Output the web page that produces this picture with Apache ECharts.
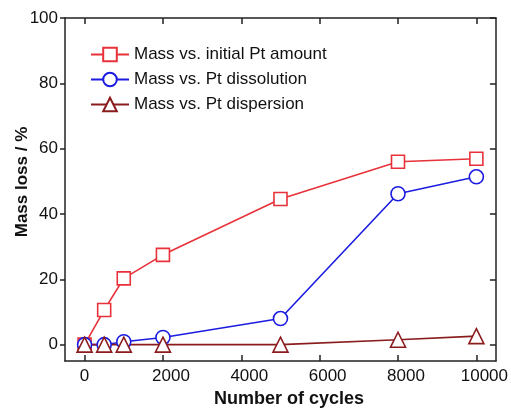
<!DOCTYPE html>
<html>
<head>
<meta charset="utf-8">
<script src="https://cdn.jsdelivr.net/npm/echarts@6/dist/echarts.min.js"></script>
<style>
  html, body { margin: 0; padding: 0; background: #fff; }
  #chart { width: 511px; height: 410px; }
</style>
</head>
<body>
<div id="chart"></div>
<script>
// Cycle counts and mass-loss values (%)
const cycles = [0, 500, 1000, 2000, 5000, 8000, 10000];
const initialPt = [0, 10.6, 20.3, 27.5, 44.6, 56.0, 56.9];
const ptDissolution = [0, 0, 0.9, 2.2, 8.0, 46.2, 51.4];
const ptDispersion = [0, 0, 0, 0, 0, 1.5, 2.6];

const seriesNames = [
  'Mass vs. initial Pt amount',
  'Mass vs. Pt dissolution',
  'Mass vs. Pt dispersion'
];
const xTicks = [0, 2000, 4000, 6000, 8000, 10000];
const yTicks = [0, 20, 40, 60, 80, 100];

const FONT = 'Liberation Sans, Arial, sans-serif';
const AXIS_COLOR = '#222';
const TEXT_COLOR = '#111';

function pairs(ys) {
  return cycles.map((c, i) => [c, ys[i]]);
}

const chart = echarts.init(document.getElementById('chart'), null, { renderer: 'canvas' });

const frameLine = { show: true, onZero: false, lineStyle: { color: AXIS_COLOR, width: 1.5 } };

function mkSeries(name, data, color, symbol, size) {
  return {
    name: name,
    type: 'line',
    data: data,
    symbol: symbol,
    symbolSize: size,
    showAllSymbol: true,
    lineStyle: { color: color, width: 1.6 },
    itemStyle: { color: '#fff', borderColor: color, borderWidth: 1.6 },
    emphasis: { disabled: true },
    animation: false,
    z: 3
  };
}

chart.setOption({
  backgroundColor: '#fff',
  animation: false,
  grid: { left: 65, right: 15, top: 18, bottom: 49 },
  legend: {
    left: 85,
    top: 41,
    orient: 'vertical',
    itemWidth: 38,
    itemHeight: 17,
    itemGap: 8,
    textStyle: { fontFamily: FONT, fontSize: 17, color: TEXT_COLOR },
    data: seriesNames.map(n => ({ name: n })),
    selectedMode: false
  },
  xAxis: [
    {
      type: 'value',
      min: -500,
      max: 10500,
      position: 'bottom',
      axisLine: frameLine,
      axisTick: { show: true, inside: true, length: 6, lineStyle: { color: AXIS_COLOR, width: 1.5 },
                  customValues: xTicks },
      axisLabel: {
        show: true, margin: 7, fontFamily: FONT, fontSize: 17, color: TEXT_COLOR,
        customValues: xTicks,
        // multi-digit labels sit slightly right of their ticks
        formatter: v => (v === 0 ? '{z|0}' : '{n|' + String(v) + '}'),
        rich: {
          z: { fontFamily: FONT, fontSize: 17, color: TEXT_COLOR },
          n: { fontFamily: FONT, fontSize: 17, color: TEXT_COLOR, padding: [0, 0, 0, 16] }
        }
      },
      splitLine: { show: false }
    },
    {
      type: 'value',
      min: -500,
      max: 10500,
      position: 'top',
      axisLine: frameLine,
      axisTick: { show: true, inside: true, length: 6, lineStyle: { color: AXIS_COLOR, width: 1.5 },
                  customValues: xTicks },
      axisLabel: { show: false },
      splitLine: { show: false }
    }
  ],
  yAxis: [
    {
      type: 'value',
      min: -5,
      max: 100,
      position: 'left',
      axisLine: frameLine,
      axisTick: { show: true, inside: false, length: 5, lineStyle: { color: AXIS_COLOR, width: 1.5 },
                  customValues: yTicks },
      axisLabel: { show: true, margin: 7, fontFamily: FONT, fontSize: 17, color: TEXT_COLOR,
                   customValues: yTicks },
      splitLine: { show: false }
    },
    {
      type: 'value',
      min: -5,
      max: 100,
      position: 'right',
      axisLine: frameLine,
      axisTick: { show: true, inside: true, length: 6, lineStyle: { color: AXIS_COLOR, width: 1.5 },
                  customValues: yTicks },
      axisLabel: { show: false },
      splitLine: { show: false }
    }
  ],
  graphic: [
    {
      type: 'text',
      x: 22,
      y: 182,
      rotation: Math.PI / 2,
      style: {
        text: 'Mass loss / %',
        fontFamily: FONT,
        fontSize: 17,
        fontWeight: 'bold',
        fill: TEXT_COLOR,
        align: 'center',
        verticalAlign: 'middle'
      }
    },
    {
      type: 'text',
      x: 289,
      y: 399,
      style: {
        text: 'Number of cycles',
        fontFamily: FONT,
        fontSize: 18,
        fontWeight: 'bold',
        fill: TEXT_COLOR,
        align: 'center',
        verticalAlign: 'middle'
      }
    }
  ],
  series: [
    mkSeries(seriesNames[0], pairs(initialPt), '#e8323a', 'rect', 13),
    mkSeries(seriesNames[1], pairs(ptDissolution), '#1c1ce0', 'circle', 14),
    mkSeries(seriesNames[2], pairs(ptDispersion), '#8a1c1e', 'triangle', 15)
  ]
});
</script>
</body>
</html>
